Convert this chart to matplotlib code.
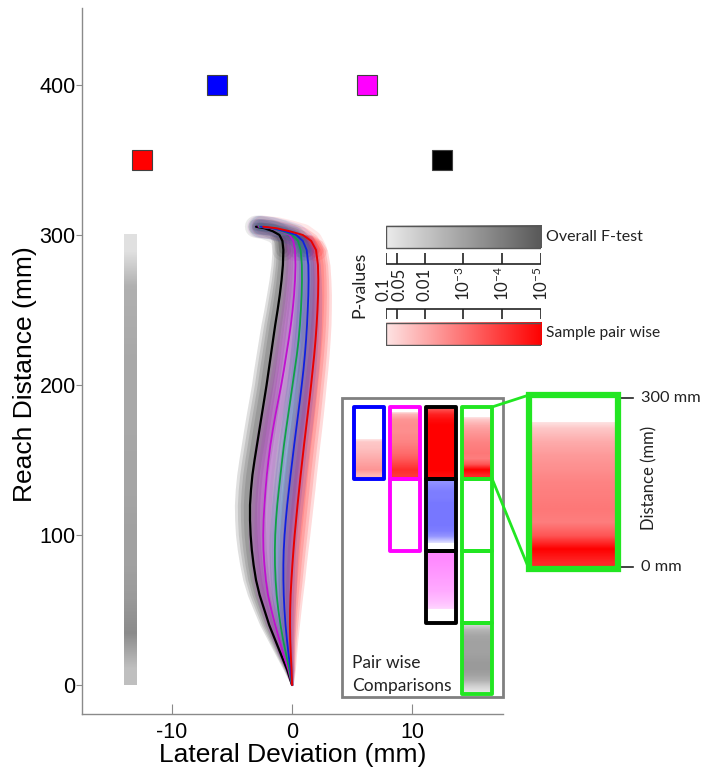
import numpy as np
import matplotlib
matplotlib.use("Agg")
import matplotlib.pyplot as plt
from matplotlib.colors import LinearSegmentedColormap, Normalize
from matplotlib.patches import Rectangle

plt.rcParams["axes.unicode_minus"] = False
plt.rcParams["mathtext.fontset"] = "custom"
plt.rcParams["mathtext.rm"] = "Lato"
plt.rcParams["mathtext.it"] = "Lato:italic"
plt.rcParams["mathtext.bf"] = "Lato:bold"

# ---------------- data ----------------
reach_y = [0, 10, 20, 30, 40, 50, 60, 70, 80, 90, 100, 110, 120, 130, 140, 150, 160, 170, 180,
           190, 200, 210, 220, 230, 240, 250, 260, 270, 280, 290, 296, 300, 302.5, 304.5, 305.5]
traj_black = [0, -0.4, -0.9, -1.4, -1.9, -2.3, -2.7, -3.0, -3.2, -3.35, -3.45, -3.5, -3.5, -3.42,
              -3.3, -3.12, -2.92, -2.72, -2.52, -2.32, -2.12, -1.94, -1.76, -1.58, -1.4, -1.2,
              -1.02, -0.87, -0.76, -0.72, -0.8, -1.05, -1.6, -2.3, -3.0]
traj_magenta = [0, -0.3, -0.7, -1.05, -1.4, -1.72, -2.0, -2.18, -2.3, -2.38, -2.4, -2.37, -2.3,
                -2.21, -2.1, -1.96, -1.8, -1.6, -1.38, -1.14, -0.9, -0.68, -0.48, -0.28, -0.1,
                0.05, 0.17, 0.25, 0.29, 0.25, 0.1, -0.2, -0.9, -1.8, -2.8]
traj_green = [0, -0.22, -0.48, -0.74, -0.96, -1.14, -1.28, -1.37, -1.42, -1.43, -1.4, -1.33, -1.23,
              -1.1, -0.96, -0.82, -0.67, -0.5, -0.32, -0.14, 0.04, 0.22, 0.4, 0.55, 0.66, 0.74,
              0.8, 0.83, 0.82, 0.72, 0.5, 0.05, -0.8, -1.7, -2.7]
traj_blue = [0, -0.12, -0.28, -0.42, -0.54, -0.63, -0.69, -0.72, -0.72, -0.69, -0.62, -0.52, -0.4,
             -0.26, -0.12, 0.03, 0.18, 0.34, 0.5, 0.66, 0.81, 0.95, 1.07, 1.17, 1.25, 1.31, 1.36,
             1.38, 1.36, 1.22, 0.9, 0.35, -0.6, -1.6, -2.6]
traj_red = [0, -0.04, -0.1, -0.15, -0.17, -0.16, -0.12, -0.05, 0.03, 0.12, 0.22, 0.34, 0.46, 0.59,
            0.72, 0.86, 1.0, 1.15, 1.3, 1.45, 1.59, 1.72, 1.85, 1.96, 2.05, 2.12, 2.17, 2.19, 2.16,
            2.0, 1.6, 0.9, -0.2, -1.3, -2.4]
# across-trial spread (mm) for reach_y up to 300 mm
spread = [0.1, 0.3, 0.45, 0.6, 0.75, 0.87, 0.97, 1.05, 1.1, 1.15, 1.2, 1.22, 1.24, 1.25, 1.25, 1.25,
          1.25, 1.25, 1.24, 1.22, 1.2, 1.2, 1.18, 1.16, 1.14, 1.1, 1.06, 1.0, 0.95, 0.9, 0.85, 0.8]

targets_x = [-12.5, -6.25, 6.25, 12.5]
targets_y = [350, 400, 400, 350]
target_colors = ["#ff0000", "#0000ff", "#ff00ff", "#000000"]

# -log10(p) profiles along reach distance (0..300 mm, every 25 mm)
dist_mm = [0, 25, 50, 75, 100, 125, 150, 175, 200, 225, 250, 275, 300]
overall_f = [2.2, 3.6, 3.2, 3.0, 3.0, 2.9, 2.9, 2.8, 2.8, 2.8, 2.7, 2.6, 1.3]
pair_blue_red = [1.8, 2.4, 2.2, 2.0, 1.8, 1.6, 1.5, 0.5, 0, 0, 0, 0, 0]
pair_magenta_red = [4.0, 4.2, 3.8, 3.4, 3.1, 2.9, 2.7, 2.6, 2.5, 2.5, 2.4, 1.8, 0]
pair_black_red = [4.8, 5, 5, 5, 5, 5, 5, 5, 5, 5, 4.8, 4.4, 3.5]
pair_green_red = [4.3, 5.0, 3.5, 2.8, 2.9, 2.8, 2.7, 2.5, 2.3, 2.0, 1.5, 0.5, 0]
pair_magenta_blue = [0, 0, 0, 0, 0, 0, 0, 0, 0, 0, 0, 0, 0]
pair_black_blue = [0, 1.3, 2.4, 2.8, 2.9, 2.9, 2.9, 2.9, 2.9, 2.8, 2.8, 2.6, 2.4]
pair_green_blue = [0, 0, 0, 0, 0, 0, 0, 0, 0, 0, 0, 0, 0]
pair_black_magenta = [0, 0, 1.3, 1.6, 1.8, 2.0, 2.1, 2.2, 2.3, 2.4, 2.5, 2.6, 2.6]
pair_green_magenta = [0, 0, 0, 0, 0, 0, 0, 0, 0, 0, 0, 0, 0]
pair_green_black = [1.2, 1.8, 2.6, 3.0, 3.2, 3.2, 3.1, 3.0, 3.0, 3.0, 2.9, 2.5, 1.6]

p_ticks = [0.1, 0.05, 0.01, 1e-3, 1e-4, 1e-5]
p_tick_labels = ["0.1", "0.05", "0.01", r"10$^{-3}$", r"10$^{-4}$", r"10$^{-5}$"]

# ---------------- styles ----------------
def mk(c0, c1, name):
    cm = LinearSegmentedColormap.from_list(name, [c0, c1])
    cm.set_under("white")
    return cm

cm_red = mk("#fde4e4", "#ff0000", "r")
cm_blue = mk("#e4e4ff", "#0000ff", "b")
cm_mag = mk("#ffe4ff", "#ff00ff", "m")
cm_gray = mk("#ebebeb", "#585858", "g")
pnorm = Normalize(1, 5)

AX_FONT = "Liberation Sans"
IN_FONT = "Lato"
TXT = "#222222"
W, H = 705, 769

fig = plt.figure(figsize=(W / 100, H / 100), dpi=100)
ax = fig.add_axes([82 / W, 1 - 714 / H, (503 - 82) / W, (714 - 8) / H])

ry = np.array(reach_y, dtype=float)
sp = np.array(spread)
n = len(spread)

bands = [
    (traj_black, "#3a3a3a", 0.16),
    (traj_red, "#ff2020", 0.16),
    (traj_magenta, "#b020c8", 0.15),
    (traj_blue, "#2020d0", 0.13),
    (traj_green, "#20a050", 0.05),
]
for xs, col, a in bands:
    xs = np.array(xs, dtype=float)
    for k in [1.05, 0.85, 0.65, 0.45]:
        ax.fill_betweenx(ry[:n], xs[:n] - k * sp, xs[:n] + k * sp, color=col, alpha=a, lw=0)
    for lw, al in [(16, 0.10), (11, 0.14), (6, 0.18)]:
        ax.plot(xs[n - 3:], ry[n - 3:], color=col, lw=lw, alpha=al, solid_capstyle="round")

lines = [
    (traj_black, "#000000", 1.6),
    (traj_magenta, "#c010d0", 1.3),
    (traj_green, "#10a048", 1.3),
    (traj_blue, "#1020e0", 1.3),
    (traj_red, "#e80000", 1.4),
]
for xs, col, lw in lines:
    ax.plot(xs, reach_y, color=col, lw=lw, solid_capstyle="round")

# targets
for tx, ty, tc in zip(targets_x, targets_y, target_colors):
    ax.plot([tx], [ty], marker="s", ms=14.5, mfc=tc, mec="#404040", mew=0.8, ls="none")

# overall F-test bar along reach
ax.imshow(np.array(overall_f)[:, None], extent=(-14.0, -13.0, dist_mm[0], dist_mm[-1]),
          origin="lower", cmap=cm_gray, norm=pnorm, aspect="auto",
          interpolation="bilinear", interpolation_stage="data", zorder=2)

ax.set_xlim(-17.5, 17.58)
ax.set_ylim(-19.3, 451.3)
ax.set_xticks([-10, 0, 10])
ax.set_yticks([0, 100, 200, 300, 400])
for s in ["top", "right"]:
    ax.spines[s].set_visible(False)
for s in ["left", "bottom"]:
    ax.spines[s].set_color("#8a8a8a")
    ax.spines[s].set_linewidth(1.0)
ax.tick_params(axis="x", direction="in", length=7, color="#8a8a8a", labelsize=15.5, pad=6)
ax.tick_params(axis="y", direction="out", length=4, color="#8a8a8a", labelsize=15.5, pad=0.5)
for lab in ax.get_xticklabels() + ax.get_yticklabels():
    lab.set_fontfamily(AX_FONT)
ax.set_xlabel("Lateral Deviation (mm)", fontsize=19, fontfamily=AX_FONT, labelpad=0)
ax.set_ylabel("Reach Distance (mm)", fontsize=19, fontfamily=AX_FONT)
ax.yaxis.set_label_coords(-0.107, 0.482)

# ---------------- p-value scale ----------------
sc = fig.add_axes([385.7 / W, 1 - 346 / H, (541.3 - 385.7) / W, (346 - 225) / H])
sc.axis("off")
grad = np.linspace(1, 5, 256)[None, :]
sc.imshow(grad, extent=(1, 5, 248, 225.5), cmap=cm_gray, norm=pnorm, aspect="auto")
sc.imshow(grad, extent=(1, 5, 345, 322.5), cmap=cm_red, norm=pnorm, aspect="auto")
sc.add_patch(Rectangle((1, 225.5), 4, 22.5, fill=False, ec="#555555", lw=1.0))
sc.add_patch(Rectangle((1, 322.5), 4, 22.5, fill=False, ec="#555555", lw=1.0))
pv = -np.log10(np.array(p_ticks))
sc.hlines(264, 1, 5, color=TXT, lw=1.2)
sc.vlines(pv, 253, 264, color=TXT, lw=1.2)
sc.hlines(309, 1, 5, color=TXT, lw=1.2)
sc.vlines(pv, 309, 319, color=TXT, lw=1.2)
nudges = [-2.5, 2.0, 0, 0, 0, 0]
for v, lab, dx in zip(pv, p_tick_labels, nudges):
    sc.annotate(lab, (v, 301), xytext=(dx * 0.72, 0), textcoords="offset points",
                rotation=90, rotation_mode="anchor", ha="left", va="center",
                fontsize=12.2, fontfamily=IN_FONT, color=TXT)
sc.set_xlim(1, 5)
sc.set_ylim(346, 225)

# ---------------- overlay (pairwise comparisons) ----------------
ov = fig.add_axes([0, 0, 1, 1], zorder=5)
ov.patch.set_alpha(0)
ov.axis("off")

ov.text(359, 285, "P-values", rotation=90, ha="center", va="center", fontsize=12.8,
        fontfamily=IN_FONT, color=TXT)
ov.text(546, 237, "Overall F-test", ha="left", va="center", fontsize=11.5, fontfamily=IN_FONT, color=TXT)
ov.text(546, 333, "Sample pair wise", ha="left", va="center", fontsize=11.2, fontfamily=IN_FONT, color=TXT)

ov.add_patch(Rectangle((342, 398), 161, 299, fc="white", ec="#808080", lw=2.0, zorder=1))

col_left = [353.5, 390, 426, 462]
row_top = [407, 479, 551, 622.5]
cw, ch = 30, 71.5
cells = [
    (0, 0, pair_blue_red, cm_red, "#0000ff"),
    (1, 0, pair_magenta_red, cm_red, "#ff00ff"),
    (2, 0, pair_black_red, cm_red, "#000000"),
    (3, 0, pair_green_red, cm_red, "#22e622"),
    (1, 1, pair_magenta_blue, cm_blue, "#ff00ff"),
    (2, 1, pair_black_blue, cm_blue, "#000000"),
    (3, 1, pair_green_blue, cm_blue, "#22e622"),
    (2, 2, pair_black_magenta, cm_mag, "#000000"),
    (3, 2, pair_green_magenta, cm_mag, "#22e622"),
    (3, 3, pair_green_black, cm_gray, "#22e622"),
]
for c, r, prof, cm, ec in cells:
    x0, y0 = col_left[c], row_top[r]
    ov.imshow(np.array(prof, dtype=float)[:, None], extent=(x0, x0 + cw, y0 + ch, y0),
              origin="lower", cmap=cm, norm=pnorm, aspect="auto",
              interpolation="bilinear", interpolation_stage="data", zorder=2)
for c, r, prof, cm, ec in cells:
    x0, y0 = col_left[c], row_top[r]
    ov.add_patch(Rectangle((x0, y0), cw, ch, fill=False, ec=ec, lw=2.8, zorder=3,
                           joinstyle="round"))

ov.text(352, 663, "Pair wise", ha="left", va="center", fontsize=12.5, fontfamily=IN_FONT, color=TXT, zorder=4)
ov.text(352, 686, "Comparisons", ha="left", va="center", fontsize=12.5, fontfamily=IN_FONT, color=TXT, zorder=4)

# magnified cell
bx0, by0, bw, bh = 529, 395, 89, 174
ov.plot([col_left[3] + cw, bx0], [row_top[0], by0], color="#22e622", lw=2.0, zorder=3)
ov.plot([col_left[3] + cw, bx0], [row_top[0] + ch, by0 + bh], color="#22e622", lw=2.0, zorder=3)
ov.imshow(np.array(pair_green_red, dtype=float)[:, None], extent=(bx0, bx0 + bw, by0 + bh, by0),
          origin="lower", cmap=cm_red, norm=pnorm, aspect="auto",
          interpolation="bilinear", interpolation_stage="data", zorder=2)
ov.add_patch(Rectangle((bx0, by0), bw, bh, fill=False, ec="#22e622", lw=4.5, zorder=3))
ov.plot([621, 633], [398, 398], color=TXT, lw=1.2)
ov.plot([621, 633], [567, 567], color=TXT, lw=1.2)
ov.text(641, 398, "300 mm", ha="left", va="center", fontsize=11.8, fontfamily=IN_FONT, color=TXT)
ov.text(641, 567, "0 mm", ha="left", va="center", fontsize=11.8, fontfamily=IN_FONT, color=TXT)
ov.text(649, 478, "Distance (mm)", rotation=90, ha="center", va="center", fontsize=12,
        fontfamily=IN_FONT, color=TXT)

ov.set_xlim(0, W)
ov.set_ylim(H, 0)

fig.savefig("out.png", dpi=100)
